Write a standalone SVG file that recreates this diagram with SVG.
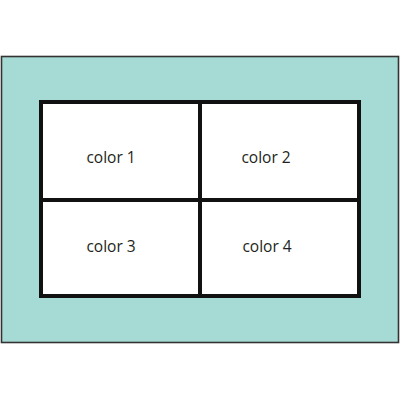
<svg xmlns="http://www.w3.org/2000/svg" width="400" height="400" viewBox="0 0 400 400">
<style>
.cell{fill:#ffffff;stroke:#111;stroke-width:4}
.lbl{font-family:"Open Sans","Liberation Sans",sans-serif;font-size:15.5px;fill:#231f20;text-anchor:middle}
</style>
<rect x="0" y="0" width="400" height="400" fill="#ffffff"/>
<g id="frame"><rect x="1.5" y="56.5" width="397" height="286" fill="#a6dbd5" stroke="#333" stroke-width="1.6"/></g>
<g id="cell1"><rect class="cell" x="41" y="102" width="159" height="98"/><text class="lbl" x="111" y="163">color 1</text></g>
<g id="cell2"><rect class="cell" x="200" y="102" width="159" height="98"/><text class="lbl" x="266" y="163">color 2</text></g>
<g id="cell3"><rect class="cell" x="41" y="200" width="159" height="96"/><text class="lbl" x="111" y="252">color 3</text></g>
<g id="cell4"><rect class="cell" x="200" y="200" width="159" height="96"/><text class="lbl" x="267" y="252">color 4</text></g>
<g id="connectors"></g>
</svg>
